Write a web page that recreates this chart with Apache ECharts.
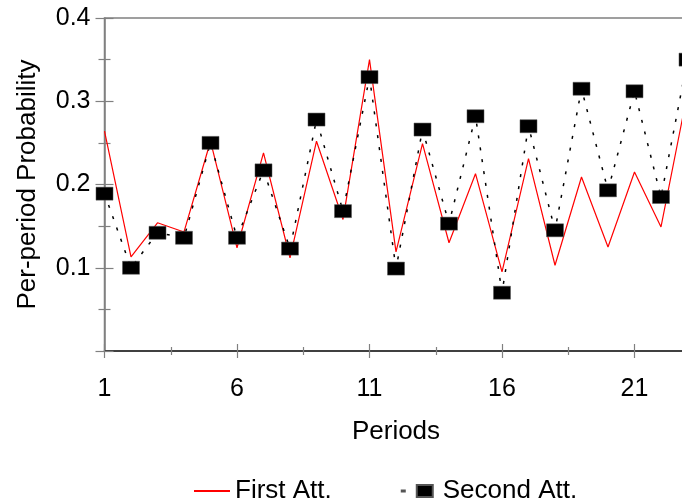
<!DOCTYPE html>
<html>
<head>
<meta charset="utf-8">
<script src="https://cdn.jsdelivr.net/npm/echarts@6/dist/echarts.min.js"></script>
<style>
  html, body { margin: 0; padding: 0; background: #fff; }
  #chart { width: 682px; height: 502px; }
</style>
</head>
<body>
<div id="chart"></div>
<script>
// values
const periods = [1, 2, 3, 4, 5, 6, 7, 8, 9, 10, 11, 12, 13, 14, 15, 16, 17, 18, 19, 20, 21, 22, 23];
const firstAtt = [0.264, 0.113, 0.154, 0.143, 0.252, 0.124, 0.238, 0.112, 0.252, 0.158, 0.350, 0.119,
  0.249, 0.130, 0.213, 0.095, 0.231, 0.103, 0.209, 0.125, 0.215, 0.149, 0.310];
const secondAtt = [0.189, 0.100, 0.142, 0.136, 0.250, 0.136, 0.217, 0.123, 0.278, 0.168, 0.329, 0.099,
  0.266, 0.153, 0.282, 0.070, 0.270, 0.145, 0.315, 0.193, 0.312, 0.185, 0.350];
const seriesNames = ['First Att.', 'Second Att.'];

const font = "'Liberation Sans', Arial, sans-serif";
const gray = '#808080';

const pairs = (ys) => periods.map((p, i) => [p, ys[i]]);

// legend glyph for the marker series: short dash + square, spread over the whole 36x14 box
const markerIcon = 'path://M0,0M36,14M0,6.4h3v1.2h-3z M15,1h16v12h-16z';

const chart = echarts.init(document.getElementById('chart'));
chart.setOption({
  animation: false,
  textStyle: { fontFamily: font },
  grid: {
    left: 104.5, top: 18, bottom: 151, right: -5.5,
    outerBoundsMode: 'none',
    show: true, borderColor: gray, borderWidth: 1.5
  },
  legend: {
    left: 188, top: 473,
    itemWidth: 36, itemHeight: 14, itemGap: 69,
    textStyle: { fontSize: 26, color: '#000', fontFamily: font },
    data: [
      { name: seriesNames[0], itemStyle: { opacity: 0 } },
      { name: seriesNames[1], icon: markerIcon }
    ]
  },
  xAxis: [{
    type: 'value', min: 1, max: 23, interval: 5,
    name: 'Periods', nameLocation: 'middle', nameGap: 68,
    nameTextStyle: { fontSize: 26, color: '#000' },
    axisLine: { lineStyle: { color: '#222', width: 1.5 } },
    axisTick: { show: true, inside: true, length: 7, lineStyle: { color: gray, width: 1.2 } },
    minorTick: { show: true, splitNumber: 2, length: 4, lineStyle: { color: gray, width: 1.2 } },
    axisLabel: { fontSize: 25, color: '#000', margin: 26, showMaxLabel: false },
    splitLine: { show: false }
  }, {
    type: 'value', min: 1, max: 23, interval: 5, position: 'bottom',
    axisLine: { show: false },
    axisTick: { show: true, length: 7, lineStyle: { color: gray, width: 1.2 } },
    minorTick: { show: true, splitNumber: 2, length: 4, lineStyle: { color: gray, width: 1.2 } },
    axisLabel: { show: false },
    splitLine: { show: false }
  }],
  yAxis: [{
    type: 'value', min: 0, max: 0.4, interval: 0.1,
    name: 'Per-period Probability', nameLocation: 'middle', nameGap: 64,
    nameTextStyle: { fontSize: 26, color: '#000' },
    axisLine: { lineStyle: { color: gray, width: 1.5 } },
    axisTick: { show: true, inside: true, length: 9, lineStyle: { color: gray, width: 1.2 } },
    minorTick: { show: true, splitNumber: 2, length: 6, lineStyle: { color: gray, width: 1.2 } },
    axisLabel: { fontSize: 25, color: '#000', margin: 14, formatter: v => v === 0 ? '' : v.toFixed(1) },
    splitLine: { show: false }
  }, {
    type: 'value', min: 0, max: 0.4, interval: 0.1, position: 'left',
    axisLine: { show: false },
    axisTick: { show: true, length: 9, lineStyle: { color: gray, width: 1.2 } },
    minorTick: { show: true, splitNumber: 2, length: 6, lineStyle: { color: gray, width: 1.2 } },
    axisLabel: { show: false },
    splitLine: { show: false }
  }],
  series: [{
    name: seriesNames[0],
    type: 'line',
    data: pairs(firstAtt),
    symbol: 'none',
    color: '#ff0000',
    lineStyle: { color: '#ff0000', width: 1.2 }
  }, {
    name: seriesNames[1],
    type: 'line',
    data: pairs(secondAtt),
    symbol: 'rect',
    symbolSize: [17, 13],
    showAllSymbol: true,
    color: '#000',
    itemStyle: { color: '#000', borderColor: '#555', borderWidth: 0.5 },
    lineStyle: { color: '#000', width: 1.5, type: [3, 9] }
  }]
});
</script>
</body>
</html>
